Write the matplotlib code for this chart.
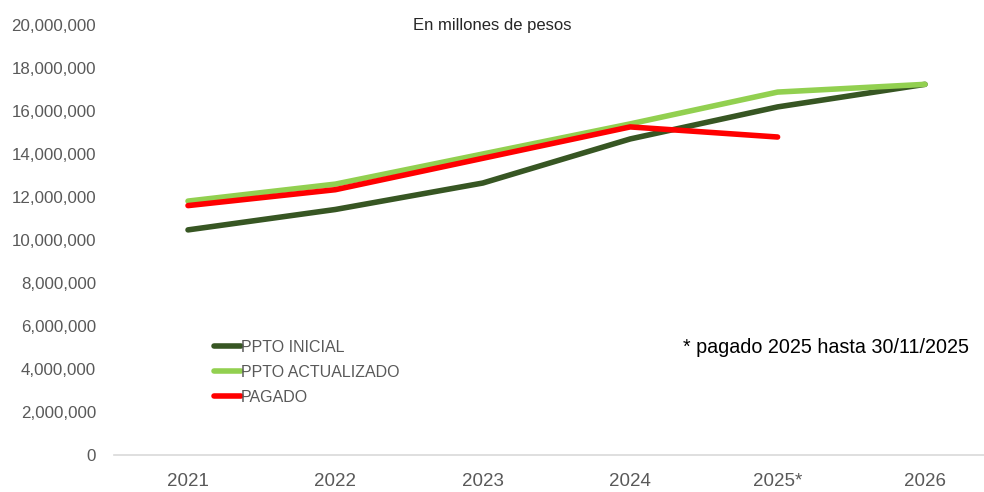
import matplotlib
matplotlib.use("Agg")
import matplotlib.pyplot as plt
from matplotlib.ticker import FuncFormatter

# data
years = ["2021", "2022", "2023", "2024", "2025*", "2026"]
ppto_inicial = [10470000, 11420000, 12650000, 14700000, 16190000, 17240000]
ppto_actualizado = [11810000, 12600000, 14000000, 15400000, 16880000, 17240000]
pagado = [11600000, 12340000, 13800000, 15260000, 14790000]

plt.rcParams["font.family"] = ["Liberation Sans", "DejaVu Sans"]

fig = plt.figure(figsize=(9.84, 4.92), dpi=100)
ax = fig.add_axes([114.3 / 984, 37 / 492, 884.4 / 984, 430 / 492])

x = list(range(len(years)))
ax.plot(x, ppto_inicial, color="#375623", lw=4, solid_capstyle="round", label="PPTO INICIAL")
ax.plot(x, ppto_actualizado, color="#92D050", lw=4, solid_capstyle="round", label="PPTO ACTUALIZADO")
ax.plot(x[:len(pagado)], pagado, color="#FF0000", lw=4, solid_capstyle="round", label="PAGADO")

ax.set_xlim(-0.5, 5.5)
ax.set_ylim(0, 20000000)
ax.set_yticks(range(0, 20000001, 2000000))
ax.yaxis.set_major_formatter(FuncFormatter(lambda v, p: f"{int(v):,}"))
ax.set_xticks(x)
ax.set_xticklabels(years)

for s in ["top", "right", "left"]:
    ax.spines[s].set_visible(False)
ax.spines["bottom"].set_color("#d9d9d9")
ax.spines["bottom"].set_linewidth(1.2)
ax.tick_params(axis="y", length=0, labelsize=12.2, colors="#595959", pad=13)
ax.tick_params(axis="x", length=0, labelsize=13.5, colors="#595959", pad=13)

ax.text(0.427, 0.9995, "En millones de pesos", transform=ax.transAxes,
        fontsize=12, color="#262626", ha="center", va="center")
ax.text(0.643, 0.25, "* pagado 2025 hasta 30/11/2025", transform=ax.transAxes,
        fontsize=14.2, color="#000000", ha="left", va="center")

leg = ax.legend(loc="upper left", bbox_to_anchor=(0.105, 0.283), frameon=False,
                fontsize=11.5, handlelength=1.7, handletextpad=0.0,
                labelspacing=0.62, borderaxespad=0)
for t in leg.get_texts():
    t.set_color("#595959")

fig.savefig("out.png", dpi=100)
